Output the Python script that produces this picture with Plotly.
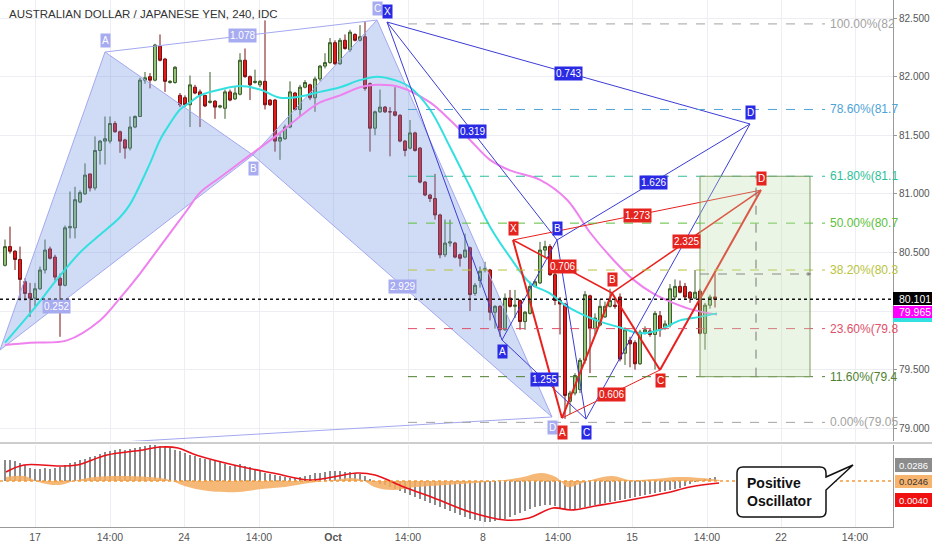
import plotly.graph_objects as go

# ---------------- data ----------------
opens = [80.39, 80.55, 80.51, 80.44, 80.25, 80.15, 80.11, 80.19, 80.35, 80.53,
         80.46, 80.28, 80.22, 80.71, 80.71, 80.93, 81.00, 81.17, 81.05, 81.37,
         81.45, 81.45, 81.60, 81.53, 81.46, 81.39, 81.57, 81.66, 81.97, 82.00,
         81.97, 82.26, 82.15, 81.95, 81.95, 81.84, 81.82, 81.76, 81.91, 81.87,
         81.84, 81.78, 81.79, 81.74, 81.73, 81.87, 81.81, 81.85, 82.14, 82.00,
         81.95, 81.93, 81.96, 81.80, 81.80, 81.45, 81.47, 81.57, 81.86, 81.72,
         81.91, 81.93, 81.82, 81.98, 82.09, 82.12, 82.29, 82.11, 82.31, 82.23,
         82.36, 82.31, 82.34, 81.94, 81.56, 81.70, 81.74, 81.70, 81.70, 81.67,
         81.45, 81.39, 81.52, 81.39, 81.10, 80.99, 80.96, 80.82, 80.48, 80.58,
         80.58, 80.48, 80.46, 80.54, 80.15, 80.26, 80.35, 80.35, 79.99, 80.04,
         79.84, 80.11, 80.04, 80.09, 79.91, 79.98, 80.21, 80.24, 80.52, 80.55,
         80.31, 80.09, 80.06, 79.23, 79.30, 79.33, 79.58, 80.13, 79.85, 79.88,
         79.95, 80.04, 80.05, 80.12, 79.64, 79.75, 79.73, 79.55, 79.82, 79.83,
         79.80, 79.96, 79.86, 79.88, 80.12, 80.21, 80.21, 80.16, 80.11, 80.17,
         79.81, 80.05, 80.12]
highs = [80.61, 80.72, 80.52, 80.55, 80.28, 80.24, 80.24, 80.38, 80.61, 80.55,
         80.48, 80.32, 80.73, 81.02, 81.06, 81.03, 81.26, 81.17, 81.49, 81.46,
         81.66, 81.66, 81.62, 81.54, 81.47, 81.66, 81.67, 81.99, 82.04, 82.03,
         82.28, 82.36, 82.16, 81.97, 82.09, 81.86, 81.84, 82.01, 81.93, 81.89,
         81.84, 82.04, 81.80, 81.76, 81.89, 81.89, 81.91, 82.20, 82.24, 82.01,
         82.06, 81.97, 82.48, 81.81, 81.81, 81.52, 81.59, 81.96, 81.87, 81.93,
         81.97, 81.94, 82.00, 82.10, 82.20, 82.33, 82.31, 82.33, 82.36, 82.40,
         82.37, 82.44, 82.47, 81.95, 81.71, 81.89, 81.75, 81.74, 81.91, 81.68,
         81.46, 81.63, 81.53, 81.40, 81.11, 81.00, 81.17, 80.83, 80.78, 80.78,
         80.59, 80.49, 80.66, 80.55, 80.24, 80.38, 80.42, 80.36, 80.05, 80.05,
         80.15, 80.18, 80.18, 80.10, 80.00, 80.25, 80.27, 80.59, 80.60, 80.57,
         80.33, 80.12, 80.07, 79.32, 79.47, 79.60, 80.17, 80.14, 79.98, 80.10,
         80.08, 80.19, 80.10, 80.15, 79.86, 79.78, 79.75, 79.84, 79.87, 79.85,
         80.00, 80.00, 79.92, 80.23, 80.27, 80.26, 80.24, 80.17, 80.35, 80.19,
         80.07, 80.14, 80.32]
lows = [80.38, 80.49, 80.35, 80.09, 80.09, 79.95, 80.04, 80.18, 80.32, 80.44,
        80.26, 79.78, 80.21, 80.62, 80.62, 80.92, 80.99, 81.02, 81.03, 81.25,
        81.25, 81.43, 81.52, 81.35, 81.30, 81.37, 81.56, 81.66, 81.94, 81.90,
        81.96, 82.13, 81.87, 81.94, 81.94, 81.74, 81.74, 81.57, 81.85, 81.57,
        81.74, 81.77, 81.64, 81.73, 81.64, 81.79, 81.80, 81.84, 81.99, 81.80,
        81.94, 81.91, 81.72, 81.75, 81.36, 81.29, 81.46, 81.56, 81.71, 81.66,
        81.90, 81.80, 81.70, 81.96, 82.07, 82.11, 82.10, 82.10, 82.23, 82.21,
        82.30, 82.30, 81.88, 81.36, 81.50, 81.69, 81.69, 81.32, 81.66, 81.44,
        81.32, 81.38, 81.36, 81.09, 80.98, 80.93, 80.78, 80.45, 80.46, 80.55,
        80.45, 80.38, 80.45, 80.00, 80.13, 80.20, 80.33, 79.92, 79.85, 79.78,
        79.83, 80.03, 79.94, 79.84, 79.84, 79.97, 80.20, 80.23, 80.45, 80.30,
        80.05, 79.80, 79.08, 79.12, 79.28, 79.30, 79.55, 79.47, 79.80, 79.87,
        79.94, 80.03, 80.02, 79.57, 79.54, 79.52, 79.50, 79.54, 79.80, 79.78,
        79.50, 79.78, 79.84, 79.86, 80.10, 80.15, 80.10, 80.07, 80.10, 79.80,
        79.67, 80.02, 80.03]
closes = [80.55, 80.51, 80.44, 80.27, 80.15, 80.11, 80.19, 80.35, 80.52, 80.45,
          80.29, 80.22, 80.71, 80.72, 80.95, 81.01, 81.16, 81.05, 81.37, 81.45,
          81.47, 81.60, 81.53, 81.45, 81.39, 81.57, 81.66, 81.97, 81.99, 81.97,
          82.27, 82.14, 81.96, 81.96, 82.08, 81.76, 81.76, 81.93, 81.86, 81.84,
          81.75, 81.79, 81.74, 81.75, 81.87, 81.80, 81.86, 82.14, 82.00, 81.93,
          81.96, 81.96, 81.76, 81.76, 81.45, 81.48, 81.57, 81.87, 81.72, 81.91,
          81.95, 81.82, 81.98, 82.09, 82.12, 82.29, 82.11, 82.31, 82.24, 82.38,
          82.31, 82.34, 81.90, 81.56, 81.70, 81.74, 81.70, 81.70, 81.67, 81.45,
          81.37, 81.52, 81.37, 81.10, 80.99, 80.96, 80.82, 80.48, 80.58, 80.59,
          80.46, 80.45, 80.52, 80.14, 80.22, 80.34, 80.36, 79.99, 80.04, 79.84,
          80.11, 80.04, 80.05, 79.91, 79.99, 80.21, 80.25, 80.52, 80.55, 80.31,
          80.09, 80.06, 79.28, 79.30, 79.45, 79.58, 80.14, 79.85, 79.94, 80.04,
          80.04, 80.09, 80.04, 79.59, 79.84, 79.72, 79.55, 79.82, 79.84, 79.80,
          79.98, 79.84, 79.89, 80.19, 80.21, 80.16, 80.12, 80.11, 80.16, 79.81,
          80.05, 80.12, 80.10]
bar_idx = list(range(len(closes)))

fast_ma_idx = [0, 5.6, 10.4, 15, 18.4, 23, 25, 29, 31, 33, 35, 37, 39, 43, 47, 51, 55, 59,
               63, 67, 71, 74.4, 78, 81, 85, 89, 93, 97, 101, 105, 109, 112, 115, 119,
               123, 127, 131, 135, 139, 142.4]
fast_ma_val = [79.73, 80.01, 80.27, 80.50, 80.63, 80.80, 80.91, 81.26, 81.46, 81.60,
               81.72, 81.78, 81.84, 81.89, 81.92, 81.89, 81.82, 81.83, 81.87, 81.91,
               81.97, 82.00, 81.97, 81.91, 81.72, 81.40, 81.06, 80.72, 80.46, 80.24,
               80.15, 80.05, 79.98, 79.91, 79.86, 79.81, 79.84, 79.92, 79.95, 79.98]
slow_ma_idx = [0, 5, 12.4, 19, 23, 27, 31, 36.4, 39, 43, 49, 55, 59, 63, 67, 71, 74.4, 79,
               85, 89, 93, 97, 101, 107, 112.4, 117, 121.6, 125.6, 129.6, 133.6, 137.6, 142.4]
slow_ma_val = [79.71, 79.73, 79.75, 79.92, 80.11, 80.32, 80.55, 80.86, 81.01, 81.14,
               81.33, 81.52, 81.66, 81.78, 81.84, 81.91, 81.93, 81.91, 81.78, 81.63,
               81.46, 81.29, 81.20, 81.12, 80.95, 80.67, 80.44, 80.27, 80.15, 80.07,
               80.01, 79.97]

hist = [0.021, 0.021, 0.020, 0.018, 0.016,
        0.013, 0.012, 0.012, 0.013, 0.012, 0.013,
        0.014, 0.016, 0.018, 0.019, 0.021,
        0.022, 0.024, 0.025, 0.027, 0.029,
        0.030, 0.031, 0.032, 0.031, 0.032, 0.033, 0.034,
        0.035, 0.036, 0.036, 0.035, 0.034, 0.033, 0.031,
        0.030, 0.028, 0.026, 0.025, 0.023, 0.022,
        0.021, 0.020, 0.019, 0.017, 0.015, 0.016, 0.017,
        0.015, 0.014, 0.012, 0.010, 0.008, 0.007, 0.006, 0.005,
        0.004, 0.003, 0.003, 0.004, 0.005, 0.006, 0.008,
        0.008, 0.009, 0.010, 0.010, 0.010, 0.009, 0.009, 0.008, 0.007,
        0.005, 0.002, -0.001, -0.003, -0.004, -0.006, -0.008,
        -0.010, -0.012, -0.014, -0.016, -0.018, -0.020, -0.022,
        -0.024, -0.026, -0.028, -0.030, -0.032, -0.034, -0.036,
        -0.038, -0.039, -0.040, -0.041, -0.041, -0.040, -0.039, -0.038,
        -0.036, -0.034, -0.032, -0.030, -0.028, -0.026, -0.025, -0.024, -0.024, -0.025, -0.027, -0.029,
        -0.029, -0.028, -0.027, -0.026, -0.025, -0.024, -0.023, -0.022,
        -0.021, -0.020, -0.019, -0.018, -0.017, -0.016, -0.015, -0.014, -0.013, -0.012,
        -0.011, -0.010, -0.009, -0.008, -0.007, -0.005, -0.003, -0.001, 0.001, 0.002, 0.003, 0.004]
hist_idx = list(range(len(hist)))

signal_idx = [0.2, 3.8, 10.8, 14.4, 20.4, 27.6, 31, 34.6, 38.2, 46.6, 53.6, 60.8, 65.6,
              70.4, 74, 79.8, 85.8, 93, 100, 104.8, 109.6, 113.2, 118, 125, 132.2, 137, 142.8]
signal_val = [0.009, 0.016, 0.015, 0.016, 0.026, 0.031, 0.034, 0.033, 0.026, 0.015, 0.008,
              0.001, 0.004, 0.008, 0.006, -0.006, -0.017, -0.031, -0.039, -0.037, -0.027,
              -0.029, -0.025, -0.019, -0.012, -0.006, -0.002]

area_idx = [0.2, 3.8, 7.3, 10.9, 14.5, 18, 22.8, 28.7, 32.3, 35.9, 40.6, 46.6, 51.3, 56,
            60.8, 65.6, 69.2, 71.5, 73.9, 77.5, 82.2, 88.2, 94.1, 100, 103.6, 107.2, 110.2,
            112.5, 114.9, 117.9, 121.5, 125, 129.8, 134.5, 139.3, 142.9]
area_val = [0.004, 0.005, -0.002, -0.004, 0.001, 0.004, 0.005, 0.004, 0.002, -0.005,
            -0.010, -0.011, -0.008, -0.006, -0.002, 0.001, 0.003, 0.001, -0.006, -0.009,
            -0.006, -0.004, -0.002, 0.001, 0.004, 0.008, 0.004, -0.006, -0.003, 0.002,
            0.005, 0.001, 0.002, 0.004, 0.003, 0.001]

x_tick_pos = [6, 21, 35.8, 50.8, 65.6, 80.6, 95.6, 110.6, 125.4, 140.4, 155.2, 170]
x_tick_text = ["17", "14:00", "24", "14:00", "<b>Oct</b>", "14:00", "8", "14:00", "15",
               "14:00", "22", "14:00"]
price_ticks = [79.0, 79.5, 80.0, 80.5, 81.0, 81.5, 82.0, 82.5]
price_tick_text = ["79.000", "79.500", "80.000", "80.500", "81.000", "81.500", "82.000", "82.500"]

fib_levels = [82.45, 81.72, 81.15, 80.75, 80.35, 79.85, 79.44, 79.05]
fib_labels = ["100.00%(82", "78.60%(81.7", "61.80%(81.1", "50.00%(80.7",
              "38.20%(80.3", "23.60%(79.8", "11.60%(79.4", "0.00%(79.05"]
fib_colors = ["#a3a3a3", "#4ea3d8", "#2dbf99", "#5cbf3c", "#b8c43a", "#e0506a",
              "#4f7f2f", "#a3a3a3"]

# harmonic pattern anchor points (bar index, price): X, A, B, C, D
light_x = [-1, 20, 49.6, 74.4, 109.4]
light_p = [79.667, 82.21, 81.331, 82.483, 79.096]
light_tail = [-1, 78.822]
dark_x = [76.4, 99.4, 110.4, 116.2, 149]
dark_p = [82.466, 79.753, 80.606, 79.078, 81.596]
red_x = [101.6, 111.4, 121.4, 131, 151.2]
red_p = [80.606, 79.087, 80.154, 79.497, 81.032]

box_x = [139, 161]
box_p = [79.44, 81.15]
box_mid_x = 150.2
box_target = 80.316

last_price = 80.101
ma_last = 79.965
osc_label_text = ["0.0286", "0.0246", "0.0040"]

# ---------------- figure ----------------
FONT = "Liberation Sans, Arial, sans-serif"
W, H = 932, 550
ML, MR, MT, MB = 0, 39, 0, 23
PW, PH = W - ML - MR, H - MT - MB
X0, X1 = -1, 177.6


def px(x):
    return x / PW


def py(y):
    return (PH - y) / PH


fig = go.Figure()

# light blue shaded pattern
lx, lp = light_x, light_p
for tri in ([0, 1, 2, 0], [2, 3, 4, 2]):
    fig.add_trace(go.Scatter(x=[lx[k] for k in tri], y=[lp[k] for k in tri], mode="lines",
                             fill="toself", fillcolor="rgba(110,145,225,0.32)",
                             line=dict(color="#a3a8ee", width=1), hoverinfo="skip",
                             xaxis="x2", yaxis="y", showlegend=False))
fig.add_trace(go.Scatter(x=[lx[1], lx[3]], y=[lp[1], lp[3]], mode="lines",
                         line=dict(color="#a3a8ee", width=1), xaxis="x2", yaxis="y",
                         showlegend=False, hoverinfo="skip"))
fig.add_trace(go.Scatter(x=[light_tail[0], lx[4]], y=[light_tail[1], lp[4]], mode="lines",
                         line=dict(color="#a3a8ee", width=1), xaxis="x2", yaxis="y",
                         showlegend=False, hoverinfo="skip"))

# candles
fig.add_trace(go.Candlestick(x=bar_idx, open=opens, high=highs, low=lows, close=closes,
                             increasing=dict(line=dict(color="#3d5e2c", width=1), fillcolor="#96c47a"),
                             decreasing=dict(line=dict(color="#7a1010", width=1), fillcolor="#e31b1b"),
                             whiskerwidth=0, xaxis="x2", yaxis="y", showlegend=False))

# moving averages
fig.add_trace(go.Scatter(x=slow_ma_idx, y=slow_ma_val, mode="lines",
                         line=dict(color="#ee82ee", width=2, shape="spline"),
                         xaxis="x2", yaxis="y", showlegend=False))
fig.add_trace(go.Scatter(x=fast_ma_idx, y=fast_ma_val, mode="lines",
                         line=dict(color="#33e0e0", width=2, shape="spline"),
                         xaxis="x2", yaxis="y", showlegend=False))


def seg(xs, ps, i, j, color, width):
    fig.add_trace(go.Scatter(x=[xs[i], xs[j]], y=[ps[i], ps[j]], mode="lines",
                             line=dict(color=color, width=width), xaxis="x2", yaxis="y",
                             showlegend=False, hoverinfo="skip"))


# dark blue pattern
DB = "#3c3cd6"
for i, j in ((0, 1), (1, 2), (2, 3), (3, 4), (0, 2), (1, 3), (2, 4), (0, 4)):
    seg(dark_x, dark_p, i, j, DB, 1)
# red pattern
RD = "#e8201e"
for i, j, w in ((0, 1, 2), (1, 2, 2), (2, 3, 2), (3, 4, 2), (0, 2, 1.5), (2, 4, 1.5),
                (1, 3, 1), (0, 4, 1)):
    seg(red_x, red_p, i, j, RD, w)

# oscillator pane
fig.add_trace(go.Scatter(x=area_idx, y=area_val, mode="lines", fill="tozeroy",
                         fillcolor="rgba(245,172,95,0.85)", line=dict(width=0, shape="spline"),
                         xaxis="x", yaxis="y2", showlegend=False))
fig.add_trace(go.Bar(x=hist_idx, y=hist, marker_color="#8a8a8a", marker_line_width=0,
                     width=0.38, xaxis="x", yaxis="y2", showlegend=False))
fig.add_trace(go.Scatter(x=signal_idx, y=signal_val, mode="lines",
                         line=dict(color="#e8121a", width=1.6, shape="spline"),
                         xaxis="x", yaxis="y2", showlegend=False))

shapes = []
annotations = []

# fib levels
fib_x0 = (408 - 5) / 5
fib_x1 = (825 - 5) / 5
for lvl, lab_txt, col in zip(fib_levels, fib_labels, fib_colors):
    shapes.append(dict(type="line", xref="x2", yref="y", x0=fib_x0, x1=fib_x1, y0=lvl, y1=lvl,
                       line=dict(color=col, width=1, dash="dash")))
    annotations.append(dict(xref="x2", yref="y", x=(828 - 5) / 5, y=lvl, xanchor="left",
                            yanchor="middle", text=lab_txt, showarrow=False,
                            font=dict(family=FONT, size=12, color=col)))

# position box
shapes.append(dict(type="rect", xref="x2", yref="y", x0=box_x[0], x1=box_x[1], y0=box_p[0],
                   y1=box_p[1], fillcolor="rgba(190,222,170,0.30)",
                   line=dict(color="#7d9e63", width=1)))
shapes.append(dict(type="line", xref="x2", yref="y", x0=box_mid_x, x1=box_mid_x, y0=box_p[0],
                   y1=box_p[1], line=dict(color="#777777", width=1, dash="dash")))
shapes.append(dict(type="line", xref="x2", yref="y", x0=box_x[0], x1=box_x[1], y0=box_target,
                   y1=box_target, line=dict(color="#888888", width=1, dash="dash")))
annotations.append(dict(xref="x2", yref="y", x=box_x[1] + 0.3, y=box_target, ax=-7, ay=0,
                        text="", showarrow=True, arrowhead=2, arrowsize=0.8, arrowwidth=1,
                        arrowcolor="#888888"))

# last price dotted line
shapes.append(dict(type="line", xref="x2", yref="y", x0=X0, x1=X1, y0=last_price, y1=last_price,
                   line=dict(color="#111111", width=1.5, dash="dot")))

# oscillator zero dotted line
shapes.append(dict(type="line", xref="x", yref="y2", x0=X0, x1=X1, y0=0, y1=0,
                   line=dict(color="#f39a3c", width=1.5, dash="dot")))

# pane separator
shapes.append(dict(type="line", xref="paper", yref="paper", x0=0, x1=W / PW, y0=py(443),
                   y1=py(443), line=dict(color="#9a9a9a", width=1)))


# pattern labels
def lab(x, p, text, bg, shift, size=10):
    annotations.append(dict(xref="x2", yref="y", x=x, y=p, yshift=shift, text=text,
                            showarrow=False, bgcolor=bg, borderpad=1,
                            xanchor="center", yanchor="middle",
                            font=dict(family=FONT, size=size, color="white")))


def mid(xs, ps, i, j, t=0.5):
    return xs[i] + (xs[j] - xs[i]) * t, ps[i] + (ps[j] - ps[i]) * t


LB = "#a7abf0"
for k, name, sh in ((1, "A", 12), (2, "B", -13), (3, "C", 12), (4, "D", -11)):
    lab(light_x[k], light_p[k], name, LB, sh)
for (i, j, t), txt in (((1, 3, 0.507), "1.078"), ((0, 2, 0.225), "0.252"), ((2, 4, 0.5), "2.929")):
    mx, mp = mid(light_x, light_p, i, j, t)
    lab(mx, mp, txt, LB, 0)

DBL = "#2a2ae4"
for k, name, sh in ((0, "X", 11), (1, "A", -12), (2, "B", 12), (3, "C", -13), (4, "D", 11)):
    lab(dark_x[k], dark_p[k], name, DBL, sh)
for (i, j), txt in (((0, 2), "0.319"), ((1, 3), "1.255"), ((2, 4), "1.626"), ((0, 4), "0.743")):
    mx, mp = mid(dark_x, dark_p, i, j)
    lab(mx, mp, txt, DBL, 0)

RDL = "#e5241f"
for k, name, sh in ((0, "X", 12), (1, "A", -14), (2, "B", 13), (3, "C", -11), (4, "D", 12)):
    lab(red_x[k], red_p[k], name, RDL, sh)
for (i, j), txt in (((0, 2), "0.706"), ((1, 3), "0.606"), ((2, 4), "2.325"), ((0, 4), "1.273")):
    mx, mp = mid(red_x, red_p, i, j)
    lab(mx, mp, txt, RDL, 0)

# right axis value boxes
XR1 = W / PW
shapes.append(dict(type="rect", xref="paper", yref="paper", x0=1, x1=XR1, y0=py(305), y1=py(292),
                   fillcolor="#000000", line=dict(width=0)))
shapes.append(dict(type="rect", xref="paper", yref="paper", x0=1, x1=XR1, y0=py(322), y1=py(318),
                   fillcolor="#33e0e0", line=dict(width=0)))
shapes.append(dict(type="rect", xref="paper", yref="paper", x0=1, x1=XR1, y0=py(318), y1=py(306),
                   fillcolor="#ff00ff", line=dict(width=0)))
annotations.append(dict(xref="paper", yref="paper", x=1 + 4 / PW, y=py(298.5), xanchor="left",
                        yanchor="middle", text=f"{last_price:.3f}", showarrow=False,
                        font=dict(family=FONT, size=10.5, color="white")))
annotations.append(dict(xref="paper", yref="paper", x=1 + 4 / PW, y=py(312), xanchor="left",
                        yanchor="middle", text=f"{ma_last:.3f}", showarrow=False,
                        font=dict(family=FONT, size=10.5, color="white")))
for (yt, yb), txt, bg, fc in (((458, 472), osc_label_text[0], "#8c8c8c", "white"),
                              ((475, 488), osc_label_text[1], "#f7b46f", "#333333"),
                              ((493, 507), osc_label_text[2], "#f01010", "white")):
    shapes.append(dict(type="rect", xref="paper", yref="paper", x0=1 + 2 / PW, x1=XR1, y0=py(yb),
                       y1=py(yt), fillcolor=bg, line=dict(width=0)))
    annotations.append(dict(xref="paper", yref="paper", x=1 + 4 / PW, y=py((yt + yb) / 2),
                            xanchor="left", yanchor="middle", text=txt, showarrow=False,
                            font=dict(family=FONT, size=9.5, color=fc)))

# callout bubble
pts = [("M", 743, 467), ("L", 820, 467), ("Q", 826, 467, 826, 473), ("L", 826, 477),
       ("L", 853, 465), ("L", 826, 490), ("L", 826, 511), ("Q", 826, 517, 820, 517),
       ("L", 743, 517), ("Q", 737, 517, 737, 511), ("L", 737, 473), ("Q", 737, 467, 743, 467)]
path = ""
for p in pts:
    cmd = p[0]
    coords = p[1:]
    s = " ".join(f"{px(coords[k]):.5f},{py(coords[k + 1]):.5f}" for k in range(0, len(coords), 2))
    path += f"{cmd} {s} "
path += "Z"
shapes.append(dict(type="path", xref="paper", yref="paper", path=path, fillcolor="white",
                   line=dict(color="#111111", width=1.5)))
annotations.append(dict(xref="paper", yref="paper", x=px(745), y=py(492), xanchor="left",
                        yanchor="middle", text="<b>Positive<br>Oscillator</b>",
                        showarrow=False, align="left",
                        font=dict(family=FONT, size=14, color="#111111")))

# title
annotations.append(dict(xref="paper", yref="paper", x=px(7), y=py(14), xanchor="left",
                        yanchor="middle", text="AUSTRALIAN DOLLAR / JAPANESE YEN, 240, IDC",
                        showarrow=False, font=dict(family=FONT, size=11.5, color="#333333")))

GRID = "#eceef3"
fig.update_layout(
    width=W, height=H, margin=dict(l=ML, r=MR, t=MT, b=MB),
    paper_bgcolor="white", plot_bgcolor="white", showlegend=False, bargap=0, boxgap=0.15,
    shapes=shapes, annotations=annotations,
    xaxis=dict(domain=[0, 1], anchor="y2", range=[X0, X1], tickmode="array",
               tickvals=x_tick_pos, ticktext=x_tick_text, showgrid=True, gridcolor=GRID,
               showline=True, linecolor="#999999", ticks="", zeroline=False,
               tickfont=dict(family=FONT, size=10.5, color="#555555")),
    xaxis2=dict(domain=[0, 1], anchor="y", matches="x", range=[X0, X1], tickmode="array",
                tickvals=x_tick_pos, showticklabels=False, showgrid=True, gridcolor=GRID,
                zeroline=False, rangeslider=dict(visible=False)),
    yaxis=dict(domain=[py(441), 1], anchor="x2", side="right", range=[78.891, 82.654],
               tickmode="array", tickvals=price_ticks, ticktext=price_tick_text,
               showgrid=True, gridcolor=GRID, zeroline=False, showline=True,
               linecolor="#999999", ticks="outside", ticklen=3, tickcolor="#999999",
               tickfont=dict(family=FONT, size=10, color="#555555")),
    yaxis2=dict(domain=[0, py(445)], anchor="x", side="right", range=[-0.046, 0.036],
                showticklabels=False, showgrid=False, zeroline=False, showline=True,
                linecolor="#999999"),
)

fig.write_html("out.html", config={"displayModeBar": False},
               post_script="document.body.style.margin='0';document.body.style.padding='0';")
